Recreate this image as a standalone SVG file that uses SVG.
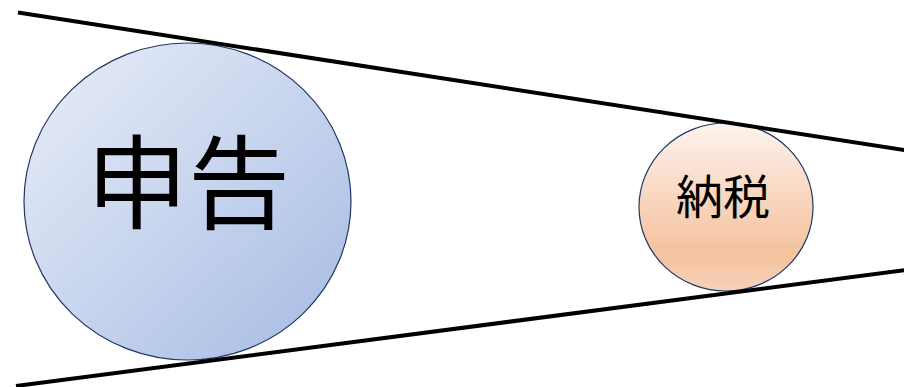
<svg xmlns="http://www.w3.org/2000/svg" width="904" height="387" viewBox="0 0 904 387">
<defs>
<style>
.conn{stroke:#000;stroke-width:4;fill:none}
.node{stroke:#1f3864;stroke-width:1.2}
.lbl{font-family:"Noto Sans CJK JP","Noto Sans CJK SC",sans-serif;fill:#000;text-anchor:middle}
</style>
<linearGradient id="gBlue" x1="0" y1="0" x2="1" y2="1">
<stop offset="0" stop-color="#e9eef8"/>
<stop offset="0.5" stop-color="#c8d5ee"/>
<stop offset="1" stop-color="#a4b9e2"/>
</linearGradient>
<linearGradient id="gOrange" x1="0" y1="0" x2="0" y2="1">
<stop offset="0" stop-color="#fdf3ef"/>
<stop offset="0.5" stop-color="#f8d3b9"/>
<stop offset="0.78" stop-color="#f4c29e"/>
<stop offset="1" stop-color="#f7d2ba"/>
</linearGradient>
</defs>
<rect width="904" height="387" fill="#fff"/>
<g id="shinkoku">
<ellipse class="node" cx="187.5" cy="201.5" rx="163.5" ry="158.5" fill="url(#gBlue)"/>
<text class="lbl" x="188" y="221" font-size="102">申告</text>
</g>
<g id="nozei">
<ellipse class="node" cx="726" cy="207" rx="87" ry="84" fill="url(#gOrange)"/>
<text class="lbl" x="723" y="214" font-size="47">納税</text>
</g>
<g id="connectors">
<line class="conn" x1="18" y1="12.5" x2="906" y2="150.3"/>
<line class="conn" x1="16" y1="386" x2="906" y2="270"/>
</g>
</svg>
